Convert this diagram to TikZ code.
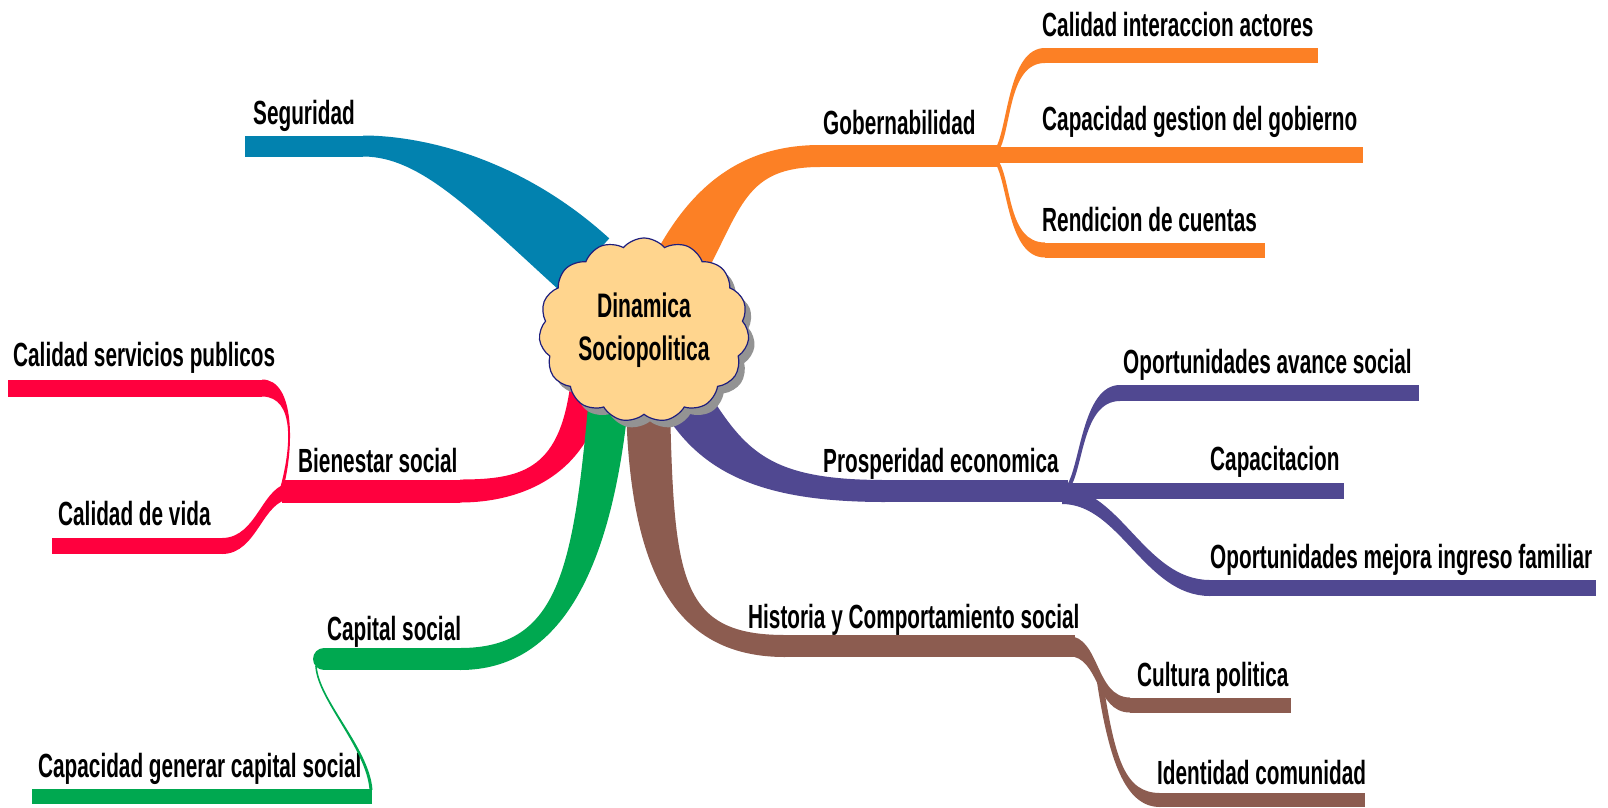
\documentclass[tikz,border=0pt]{standalone}
\usepackage{fontspec}
\newfontfamily\mapfont{Liberation Sans}[FakeStretch=0.62]
\usetikzlibrary{calc, shapes.symbols, shadows, positioning}
\definecolor{azul}{RGB}{2,130,175}
\definecolor{naranja}{RGB}{252,128,37}
\definecolor{rojo}{RGB}{255,0,62}
\definecolor{verde}{RGB}{0,168,80}
\definecolor{cafe}{RGB}{140,92,80}
\definecolor{morado}{RGB}{80,72,145}
\definecolor{nube}{RGB}{255,213,142}
\definecolor{borde}{RGB}{30,30,125}
\tikzstyle{lbl} = [anchor=base west, inner sep=0pt, font=\mapfont\bfseries\fontsize{33.5}{38}\selectfont]
\tikzstyle{core} = [cloud, cloud puffs=15, cloud puff arc=100, cloud ignores aspect, draw=borde, line width=1.2pt, fill=nube, align=center, inner sep=0pt, minimum width=210pt, minimum height=184pt, font=\mapfont\bfseries\fontsize{34}{43}\selectfont, drop shadow={shadow xshift=6pt, shadow yshift=-7pt, opacity=1, fill=gray!85}]
\newcommand{\limb}[7]{%
  \fill[#1] ($(#2)!#6!90:(#3)$)
    .. controls ($(#3)!#6!-90:(#2)$) and ($(#4)!#7!90:(#5)$) .. ($(#5)!#7!-90:(#4)$)
    -- ($(#5)!#7!90:(#4)$)
    .. controls ($(#4)!#7!-90:(#5)$) and ($(#3)!#6!90:(#2)$) .. ($(#2)!#6!-90:(#3)$) -- cycle;}

\begin{document}
\begin{tikzpicture}[x=1pt, y=-1pt]
    \fill[white] (0,0) rectangle (1608,807);
    \useasboundingbox (0,0) rectangle (1608,807);

    \node[lbl] (seg) at (253,124) {Seguridad};
    \node[lbl] (gob) at (823,134) {Gobernabilidad};
    \node[lbl] (cia) at (1042,36) {Calidad interaccion actores};
    \node[lbl] (cgg) at (1042,130) {Capacidad gestion del gobierno};
    \node[lbl] (rdc) at (1042,231) {Rendicion de cuentas};
    \node[lbl] (pro) at (823,472) {Prosperidad economica};
    \node[lbl] (oas) at (1123,373) {Oportunidades avance social};
    \node[lbl] (capa) at (1210,470) {Capacitacion};
    \node[lbl] (omi) at (1210,568) {Oportunidades mejora ingreso familiar};
    \node[lbl] (his) at (748,628) {Historia y Comportamiento social};
    \node[lbl] (cul) at (1137,686) {Cultura politica};
    \node[lbl] (ide) at (1157,784) {Identidad comunidad};
    \node[lbl] (bie) at (298,472) {Bienestar social};
    \node[lbl] (csp) at (13,366) {Calidad servicios publicos};
    \node[lbl] (cdv) at (58,525) {Calidad de vida};
    \node[lbl] (cap) at (327,640) {Capital social};
    \node[lbl] (cgc) at (38,777) {Capacidad generar capital social};

    \path (585,265) coordinate (seg0) (495,183) coordinate (seg1) (420,146) coordinate (seg2) (363,146) coordinate (seg3) (245,146) coordinate (seg4);
    \limb{azul}{seg0}{seg1}{seg2}{seg3}{36pt}{10.5pt}
    \draw[azul, line width=21pt] (seg3) -- (seg4);

    \path (680,265) coordinate (gob0) (718,195) coordinate (gob1) (745,156) coordinate (gob2) (820,156) coordinate (gob3) (1000,156) coordinate (gob4);
    \limb{naranja}{gob0}{gob1}{gob2}{gob3}{27pt}{11pt}
    \draw[naranja, line width=22pt] (gob3) -- (gob4);
    \path (997,150) coordinate (cia0) (1010,128) coordinate (cia1) (1008,55.5) coordinate (cia2) (1045,55.5) coordinate (cia3) (1318,55.5) coordinate (cia4);
    \limb{naranja}{cia0}{cia1}{cia2}{cia3}{2pt}{7.5pt}
    \draw[naranja, line width=15pt] (cia3) -- (cia4);
    \path (995,155) coordinate (cgg0) (1363,155) coordinate (cgg1);
    \draw[naranja, line width=16pt] (cgg0) -- (cgg1);
    \path (997,162) coordinate (rdc0) (1010,184) coordinate (rdc1) (1008,250) coordinate (rdc2) (1045,250) coordinate (rdc3) (1265,250) coordinate (rdc4);
    \limb{naranja}{rdc0}{rdc1}{rdc2}{rdc3}{2pt}{7.5pt}
    \draw[naranja, line width=15pt] (rdc3) -- (rdc4);

    \path (685,400) coordinate (pro0) (725,465) coordinate (pro1) (770,491) coordinate (pro2) (885,491) coordinate (pro3) (1068,491) coordinate (pro4);
    \limb{morado}{pro0}{pro1}{pro2}{pro3}{24pt}{11pt}
    \draw[morado, line width=22pt] (pro3) -- (pro4);
    \path (1068,487) coordinate (oas0) (1082,468) coordinate (oas1) (1082,393) coordinate (oas2) (1120,393) coordinate (oas3) (1419,393) coordinate (oas4);
    \limb{morado}{oas0}{oas1}{oas2}{oas3}{2pt}{8pt}
    \draw[morado, line width=16pt] (oas3) -- (oas4);
    \path (1064,491) coordinate (capa0) (1344,491) coordinate (capa1);
    \draw[morado, line width=16pt] (capa0) -- (capa1);
    \path (1062,496) coordinate (omi0) (1120,496) coordinate (omi1) (1145,588) coordinate (omi2) (1210,588) coordinate (omi3) (1596,588) coordinate (omi4);
    \limb{morado}{omi0}{omi1}{omi2}{omi3}{8pt}{8pt}
    \draw[morado, line width=16pt] (omi3) -- (omi4);

    \path (648,405) coordinate (his0) (652,580) coordinate (his1) (680,646) coordinate (his2) (785,646) coordinate (his3) (1075,646) coordinate (his4);
    \limb{cafe}{his0}{his1}{his2}{his3}{22pt}{11pt}
    \draw[cafe, line width=22pt] (his3) -- (his4);
    \path (1068,646) coordinate (cul0) (1100,646) coordinate (cul1) (1095,705) coordinate (cul2) (1130,705) coordinate (cul3) (1291,705) coordinate (cul4);
    \limb{cafe}{cul0}{cul1}{cul2}{cul3}{10pt}{7.5pt}
    \draw[cafe, line width=15pt] (cul3) -- (cul4);
    \path (1100,682) coordinate (ide0) (1112,760) coordinate (ide1) (1125,800) coordinate (ide2) (1160,800) coordinate (ide3) (1365,800) coordinate (ide4);
    \limb{cafe}{ide0}{ide1}{ide2}{ide3}{3pt}{7pt}
    \draw[cafe, line width=14pt] (ide3) -- (ide4);

    \path (588,380) coordinate (bie0) (578,470) coordinate (bie1) (525,491) coordinate (bie2) (460,491) coordinate (bie3) (282,491) coordinate (bie4);
    \limb{rojo}{bie0}{bie1}{bie2}{bie3}{17pt}{11.5pt}
    \draw[rojo, line width=23pt] (bie3) -- (bie4);
    \path (282,487) coordinate (csp0) (292,450) coordinate (csp1) (296,388) coordinate (csp2) (262,388) coordinate (csp3) (8,388) coordinate (csp4);
    \limb{rojo}{csp0}{csp1}{csp2}{csp3}{1.5pt}{8.5pt}
    \draw[rojo, line width=17pt] (csp3) -- (csp4);
    \path (292,491) coordinate (cdv0) (262,491) coordinate (cdv1) (258,546) coordinate (cdv2) (222,546) coordinate (cdv3) (52,546) coordinate (cdv4);
    \limb{rojo}{cdv0}{cdv1}{cdv2}{cdv3}{8pt}{8pt}
    \draw[rojo, line width=16pt] (cdv3) -- (cdv4);

    \path (610,385) coordinate (cap0) (594,570) coordinate (cap1) (560,659) coordinate (cap2) (460,659) coordinate (cap3) (324,659) coordinate (cap4);
    \limb{verde}{cap0}{cap1}{cap2}{cap3}{20pt}{11pt}
    \draw[verde, line width=22pt, line cap=round] (cap3) -- (cap4);
    \path (316,666) coordinate (cgc0) (318,700) coordinate (cgc1) (368,748) coordinate (cgc2) (371,790) coordinate (cgc3) (372,796) coordinate (cgc4) (32,796) coordinate (cgc5);
    \limb{verde}{cgc0}{cgc1}{cgc2}{cgc3}{0.8pt}{1.5pt}
    \draw[verde, line width=15pt] (cgc4) -- (cgc5);

    \node[core] (dyn) at (644,330) {Dinamica\\Sociopolitica};
\end{tikzpicture}
\end{document}
